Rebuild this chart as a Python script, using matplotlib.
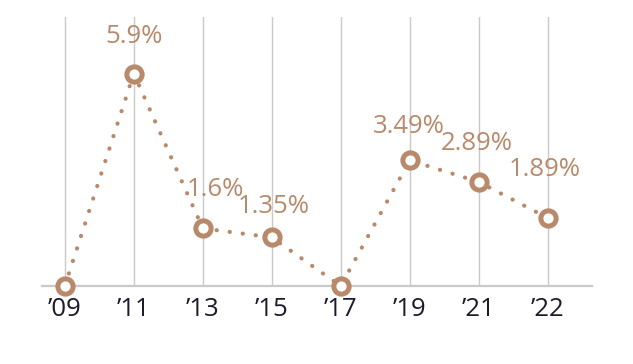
import matplotlib
matplotlib.use('Agg')
import matplotlib.pyplot as plt

plt.rcParams['font.family'] = ['Open Sans', 'DejaVu Sans']

years = ['’09', '’11', '’13', '’15', '’17', '’19', '’21', '’22']
rates = [0, 5.9, 1.6, 1.35, 0, 3.49, 2.89, 1.89]
labels = ['', '5.9%', '1.6%', '1.35%', '', '3.49%', '2.89%', '1.89%']

brown = '#b88a6b'
grid_c = '#c9c9cc'
text_c = '#1b1b2b'

# label offsets (points) relative to each marker
offsets = [(0, 0), (0, 27), (9, 28), (1.5, 22), (0, 0), (-1, 24), (-1.5, 28), (-2, 35)]

fig = plt.figure(figsize=(6.33, 3.64), dpi=100)
ax = fig.add_axes([0.0664, 0.2143, 0.8686, 0.739])

x = list(range(len(years)))
for xi in x:
    ax.axvline(xi, color=grid_c, lw=1.0, zorder=0)

ax.plot(x, rates, color=brown, lw=3.0, linestyle=(0, (0.05, 3.1)),
        dash_capstyle='round', zorder=2, clip_on=False)
ax.plot(x, rates, linestyle='none', marker='o', ms=11, mew=3.6,
        mfc='white', mec=brown, zorder=3, clip_on=False)

for xi, yi, lab, off in zip(x, rates, labels, offsets):
    if lab:
        ax.annotate(lab, (xi, yi), xytext=off, textcoords='offset points',
                    ha='center', va='center', fontsize=18.5, color=brown)

ax.set_xlim(-0.33, 7.64)
ax.set_ylim(0, 7.47)
ax.set_xticks(x)
ax.set_xticklabels(years, fontsize=18.5, color=text_c)
ax.tick_params(axis='x', length=0, pad=8)
ax.set_yticks([])
for s in ['top', 'left', 'right']:
    ax.spines[s].set_visible(False)
ax.spines['bottom'].set_color(grid_c)
ax.spines['bottom'].set_linewidth(1.6)

fig.savefig('out.png', dpi=100)
